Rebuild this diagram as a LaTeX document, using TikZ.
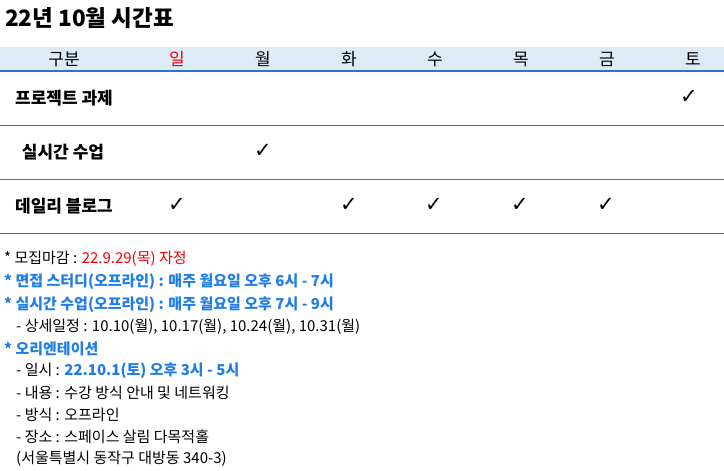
\documentclass[tikz,border=0pt]{standalone}
\usepackage{fontspec}
\setmainfont{Noto Sans CJK KR}
\newfontfamily\symfont{DejaVu Sans}
\usetikzlibrary{positioning}

\definecolor{headfill}{RGB}{221,235,247}
\definecolor{rulecol}{RGB}{45,115,205}
\definecolor{noteblue}{RGB}{30,125,230}
\definecolor{notered}{RGB}{245,0,0}

\begin{document}
\begin{tikzpicture}[x=1pt, y=-1pt, every node/.style={inner sep=0pt},
  daycell/.style={font=\fontsize{17}{20}\selectfont},
  rowlabel/.style={font=\bfseries\fontsize{17}{20}\selectfont},
  tick/.style={font=\symfont\fontsize{21}{24}\selectfont},
  noteline/.style={anchor=west, font=\fontsize{15}{18}\selectfont}]
\useasboundingbox[fill=white] (0,0) rectangle (724,471);

% title
\node[anchor=west, font=\bfseries\fontsize{22.5}{26}\selectfont] (title) at (5,18) {22년 10월 시간표};

% header band and rules
\fill[headfill] (0,47) rectangle (724,71);
\draw[rulecol, line width=1.2pt] (0,71) -- (724,71);
\foreach \y in {125,179,233}
    \draw[rulecol, line width=1pt] (0,\y) -- (724,\y);

% header
\node[daycell] (head) at (64,59) {구분};
\node[daycell, text=notered] (sun) at (177,59) {일};
\foreach \n/\d [count=\i] in {mon/월, tue/화, wed/수, thu/목, fri/금, sat/토}
    \node[daycell] (\n) at (177+86*\i,59) {\d};

% rows
\node[rowlabel] (proj) at (64,98) {프로젝트 과제};
\node[rowlabel] (live) at (63,152) {실시간 수업};
\node[rowlabel] (blog) at (64,206) {데일리 블로그};

% checks
\node[tick] (proj-sat) at (689,97) {✓};
\node[tick] (live-mon) at (263,151) {✓};
\foreach \n/\x in {sun/177, tue/349, wed/434, thu/520, fri/606}
    \node[tick] (blog-\n) at (\x,205) {✓};

% notes
\node[noteline] (n1) at (4,259) {* 모집마감 : \textcolor{notered}{22.9.29(목) 자정}};
\node[noteline, text=noteblue, font=\bfseries\fontsize{15}{18}\selectfont] (n2) at (4,282) {* 면접 스터디(오프라인) : 매주 월요일 오후 6시 - 7시};
\node[noteline, text=noteblue, font=\bfseries\fontsize{15}{18}\selectfont] (n3) at (4,305) {* 실시간 수업(오프라인) : 매주 월요일 오후 7시 - 9시};
\node[noteline] (n4) at (16,327) {- 상세일정 : 10.10(월), 10.17(월), 10.24(월), 10.31(월)};
\node[noteline, text=noteblue, font=\bfseries\fontsize{15}{18}\selectfont] (n5) at (4,349) {* 오리엔테이션};
\node[noteline] (n6) at (16,371) {- 일시 : \textcolor{noteblue}{\bfseries 22.10.1(토) 오후 3시 - 5시}};
\node[noteline] (n7) at (16,393) {- 내용 : 수강 방식 안내 및 네트워킹};
\node[noteline] (n8) at (16,415) {- 방식 : 오프라인};
\node[noteline] (n9) at (16,437) {- 장소 : 스페이스 살림 다목적홀};
\node[noteline] (n10) at (16,459) {(서울특별시 동작구 대방동 340-3)};
\end{tikzpicture}
\end{document}
